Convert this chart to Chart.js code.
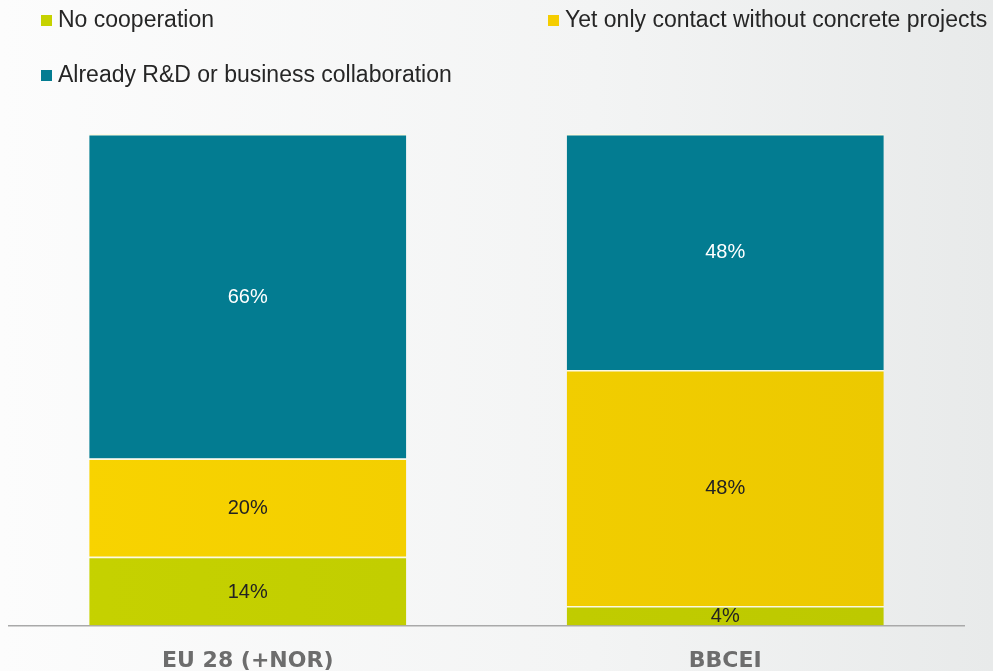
<!DOCTYPE html>
<html>
<head>
<meta charset="utf-8">
<script src="https://cdn.jsdelivr.net/npm/chart.js@4.4.1/dist/chart.umd.min.js"></script>
<style>
  html, body { margin: 0; padding: 0; }
  body {
    width: 993px; height: 671px; overflow: hidden;
    background: linear-gradient(to right, #fcfcfc 0%, #f3f4f4 60%, #e8eaea 100%);
  }
  #wrap { position: relative; width: 993px; height: 671px; }
</style>
</head>
<body>
<div id="wrap"><canvas id="coopChart" width="993" height="671"></canvas></div>
<script>
// data
const categories = ['EU 28 (+NOR)', 'BBCEI'];
const seriesNames = ['No cooperation', 'Yet only contact without concrete projects', 'Already R&D or business collaboration'];
const noCooperation = [14, 4];
const contactOnly = [20, 48];
const collaboration = [66, 48];

function hGradient(ctx, from, to) {
  const area = ctx.chart.chartArea;
  if (!area) return from;
  const g = ctx.chart.ctx.createLinearGradient(area.left, 0, area.right, 0);
  g.addColorStop(0, from);
  g.addColorStop(1, to);
  return g;
}

// legend in two columns, drawn on the canvas
const gridLegend = {
  id: 'gridLegend',
  afterDraw(chart) {
    const c = chart.ctx;
    const spots = [[41, 21], [548, 21], [41, 76]];
    const swatches = ['#c6d200', '#f5cd00', '#037c91'];
    c.save();
    c.font = '23px "Liberation Sans", Arial, sans-serif';
    c.textBaseline = 'middle';
    chart.data.datasets.forEach((ds, i) => {
      const [x, y] = spots[i];
      c.fillStyle = swatches[i];
      c.fillRect(x, y - 6, 11, 11);
      c.fillStyle = '#262626';
      c.fillText(ds.label, x + 17, y);
    });
    c.restore();
  }
};

// value labels in the middle of each segment
const segLabels = {
  id: 'segLabels',
  afterDatasetsDraw(chart) {
    const c = chart.ctx;
    c.save();
    c.font = '20px "Liberation Sans", Arial, sans-serif';
    c.textAlign = 'center';
    c.textBaseline = 'middle';
    chart.data.datasets.forEach((ds, i) => {
      chart.getDatasetMeta(i).data.forEach((bar, j) => {
        const p = bar.getProps(['x', 'y', 'base'], true);
        c.fillStyle = i === 2 ? '#ffffff' : '#222222';
        c.fillText(ds.data[j] + '%', p.x, (p.y + p.base) / 2 + 1);
      });
    });
    c.restore();
  }
};

const ctx = document.getElementById('coopChart');
new Chart(ctx, {
  type: 'bar',
  data: {
    labels: categories,
    datasets: [
      {
        label: seriesNames[0],
        data: noCooperation,
        backgroundColor: (c) => hGradient(c, '#c6d200', '#bcc800')
      },
      {
        label: seriesNames[1],
        data: contactOnly,
        backgroundColor: (c) => hGradient(c, '#f9d400', '#ebc800')
      },
      {
        label: seriesNames[2],
        data: collaboration,
        backgroundColor: '#037c91'
      }
    ]
  },
  options: {
    responsive: false,
    animation: false,
    devicePixelRatio: 1,
    datasets: {
      bar: {
        categoryPercentage: 1,
        barPercentage: 0.664,
        borderColor: 'rgba(255,250,220,0.8)',
        borderWidth: { top: 1.5, left: 0, right: 0, bottom: 0 },
        borderSkipped: false
      }
    },
    layout: { padding: { top: 134, left: 9, right: 29, bottom: -25 } },
    plugins: {
      legend: { display: false },
      tooltip: { enabled: false }
    },
    scales: {
      x: {
        stacked: true,
        grid: { display: false, drawTicks: false },
        border: { display: true, color: '#a9a9a9', width: 1.5 },
        ticks: {
          padding: 22,
          color: '#6d6d6d',
          font: { family: '"DejaVu Sans", sans-serif', size: 22, weight: 'bold' }
        }
      },
      y: {
        stacked: true,
        display: false,
        min: 0,
        max: 100
      }
    }
  },
  plugins: [gridLegend, segLabels]
});
</script>
</body>
</html>
